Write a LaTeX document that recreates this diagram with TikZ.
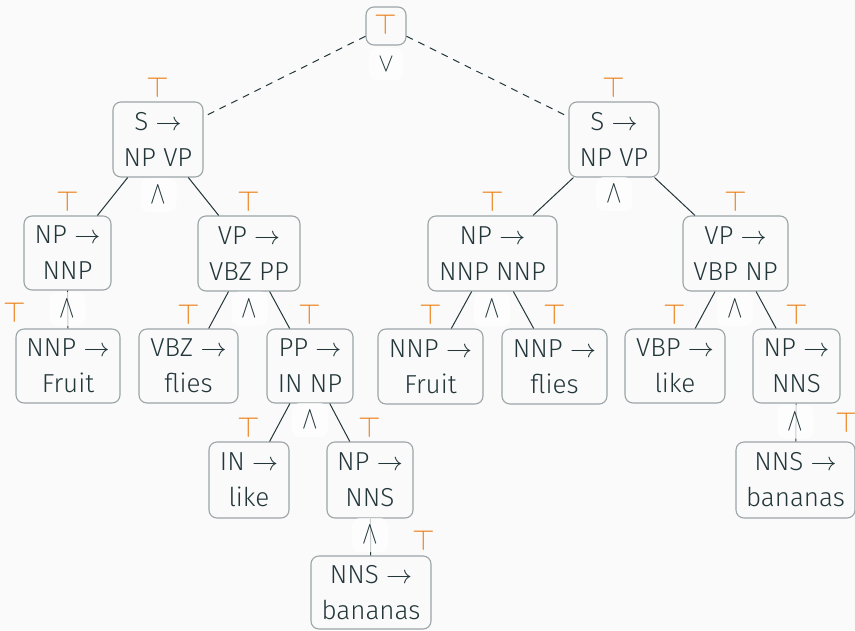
\RequirePackage{fix-cm}
\documentclass[tikz,border=0pt]{standalone}
\usepackage{fontspec}
\setmainfont{Fira Sans}[UprightFont=* Light]
\definecolor{ink}{HTML}{23373B}
\definecolor{accent}{HTML}{EB811B}
\definecolor{paper}{HTML}{FAFAFA}
\tikzset{
  rule/.style={draw=ink!45!white, line width=1.1pt, rounded corners=8pt,
    align=center, inner sep=0pt, text=ink, font=\fontsize{26}{36}\selectfont},
  conj/.style={fill=white, fill opacity=0.75, text opacity=1, rounded corners=8pt,
    minimum width=36pt, minimum height=34pt, inner sep=0pt, text=ink,
    font=\fontsize{29}{29}\selectfont},
  topmark/.style={text=accent, inner sep=0pt, anchor=south,
    font=\fontsize{29}{29}\selectfont},
  link/.style={draw=ink, line width=1pt},
  dlink/.style={link, dash pattern=on 7pt off 6pt},
}
\newcommand{\andsym}{\scalebox{0.8}[1.1]{$\wedge$}}
\newcommand{\orsym}{\scalebox{0.8}[0.9]{$\vee$}}
\begin{document}
\begin{tikzpicture}[x=1pt, y=-1pt]
  \fill[paper] (0,0) rectangle (855,630);
  \useasboundingbox (0,0) rectangle (855,630);

  % rule nodes
  \node[rule, minimum width=40pt, minimum height=38pt] (root) at (386,26) {};
  \node[rule, minimum width=90pt, minimum height=75pt] (sl) at (158,139.5) {S $\to$\\NP VP};
  \node[rule, minimum width=90pt, minimum height=75pt] (sr) at (614,139.5) {S $\to$\\NP VP};
  \node[rule, minimum width=87pt, minimum height=74pt] (npl) at (67.5,253) {NP $\to$\\NNP};
  \node[rule, minimum width=102pt, minimum height=75pt] (vpl) at (249,253.5) {VP $\to$\\VBZ PP};
  \node[rule, minimum width=129pt, minimum height=75pt] (npr) at (492.5,253.5) {NP $\to$\\NNP NNP};
  \node[rule, minimum width=105pt, minimum height=75pt] (vpr) at (735.5,253.5) {VP $\to$\\VBP NP};
  \node[rule, minimum width=104pt, minimum height=74pt] (nnpl) at (68,366) {NNP $\to$\\Fruit};
  \node[rule, minimum width=99pt, minimum height=74pt] (vbz) at (188.5,366) {VBZ $\to$\\flies};
  \node[rule, minimum width=86pt, minimum height=74pt] (pp) at (310,366) {PP $\to$\\IN NP};
  \node[rule, minimum width=105pt, minimum height=75pt] (nnpa) at (430.5,366.5) {NNP $\to$\\Fruit};
  \node[rule, minimum width=105pt, minimum height=75pt] (nnpb) at (554.5,366.5) {NNP $\to$\\flies};
  \node[rule, minimum width=100pt, minimum height=74pt] (vbp) at (675,366) {VBP $\to$\\like};
  \node[rule, minimum width=87pt, minimum height=74pt] (npr2) at (796.5,366) {NP $\to$\\NNS};
  \node[rule, minimum width=80pt, minimum height=76pt] (in) at (249,480) {IN $\to$\\like};
  \node[rule, minimum width=86pt, minimum height=76pt] (npn) at (370,480) {NP $\to$\\NNS};
  \node[rule, minimum width=120pt, minimum height=73pt] (nnsl) at (371,592.5) {NNS $\to$\\bananas};
  \node[rule, minimum width=119pt, minimum height=76pt] (nnsr) at (795.5,480) {NNS $\to$\\bananas};

  % top marks
  \node[topmark] (root-t) at ([yshift=-28pt]root.north) {$\top$};
  \foreach \n in {sl,sr,npl,vpl,npr,vpr,vbz,pp,nnpa,nnpb,vbp,npr2,in,npn}
    \node[topmark] (\n-t) at ([yshift=4pt]\n.north) {$\top$};
  \node[topmark] (nnpl-t) at (14.5,323) {$\top$};
  \node[topmark] (nnsl-t) at (423.5,551) {$\top$};
  \node[topmark] (nnsr-t) at (847,433) {$\top$};

  % connectors
  \draw[dlink] (root) -- (sl);
  \draw[dlink] (root) -- (sr);
  \draw[link] (sl) -- (npl);
  \draw[link] (sl) -- (vpl);
  \draw[link] (npl) -- (nnpl);
  \draw[link] (vpl) -- (vbz);
  \draw[link] (vpl) -- (pp);
  \draw[link] (pp) -- (in);
  \draw[link] (pp) -- (npn);
  \draw[link] (npn) -- (nnsl);
  \draw[link] (sr) -- (npr);
  \draw[link] (sr) -- (vpr);
  \draw[link] (npr) -- (nnpa);
  \draw[link] (npr) -- (nnpb);
  \draw[link] (vpr) -- (vbp);
  \draw[link] (vpr) -- (npr2);
  \draw[link] (npr2) -- (nnsr);

  % conjunction / disjunction markers
  \node[conj, minimum height=32pt, minimum width=34pt] (root-or) at (386,64) {\orsym};
  \node[conj] (sl-and) at (158.5,195) {\andsym};
  \node[conj] (sr-and) at (614,194) {\andsym};
  \node[conj] (npl-and) at (67.5,309) {\andsym};
  \node[conj] (vpl-and) at (249.5,308.5) {\andsym};
  \node[conj] (npr-and) at (492,309) {\andsym};
  \node[conj] (vpr-and) at (735,309) {\andsym};
  \node[conj] (pp-and) at (310,420) {\andsym};
  \node[conj] (npn-and) at (370,535) {\andsym};
  \node[conj] (npr2-and) at (795.5,421.5) {\andsym};
\end{tikzpicture}
\end{document}
